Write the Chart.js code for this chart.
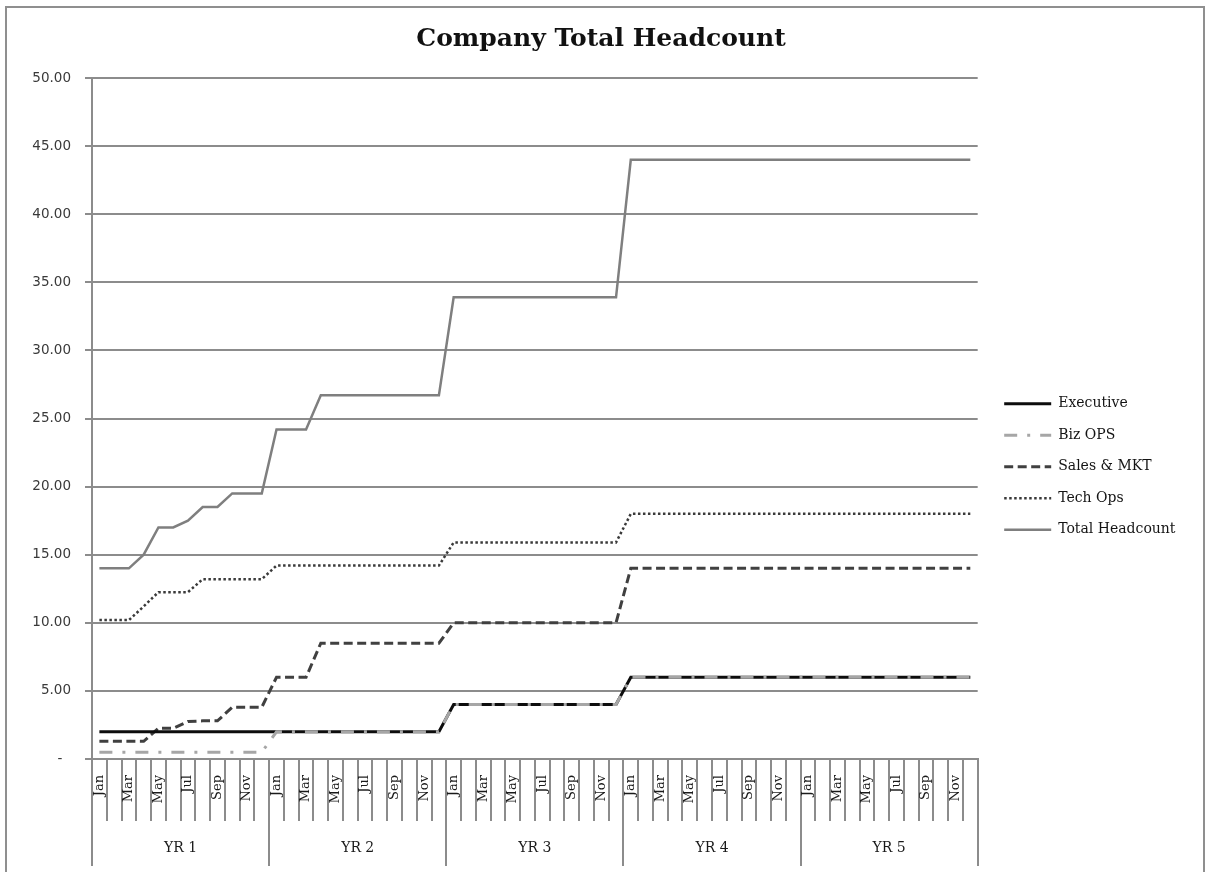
<!DOCTYPE html>
<html>
<head>
<meta charset="utf-8">
<title>Company Total Headcount</title>
<script src="https://cdn.jsdelivr.net/npm/chart.js@4.4.1/dist/chart.umd.min.js"></script>
<style>
  html, body { margin: 0; padding: 0; background: #ffffff; }
  #wrap { position: relative; width: 1210px; height: 872px; overflow: hidden; }
  #frame { position: absolute; left: 5px; top: 6px; width: 1196px; height: 900px;
           border: 2px solid #8f8f8f; pointer-events: none; }
  canvas { display: block; }
</style>
</head>
<body>
<div id="wrap">
  <canvas id="chart" width="1210" height="872"></canvas>
  <div id="frame"></div>
</div>
<script>
// Category levels: five plan years, twelve months each
const years = ['YR 1', 'YR 2', 'YR 3', 'YR 4', 'YR 5'];
const months = ['Jan', 'Feb', 'Mar', 'Apr', 'May', 'Jun', 'Jul', 'Aug', 'Sep', 'Oct', 'Nov', 'Dec'];

// Y axis ticks
const yTicks = [0, 5, 10, 15, 20, 25, 30, 35, 40, 45, 50];

// Headcount by department, one value per month (YR 1 .. YR 5)
const executive = [
  2, 2, 2, 2, 2, 2, 2, 2, 2, 2, 2, 2,
  2, 2, 2, 2, 2, 2, 2, 2, 2, 2, 2, 2,
  4, 4, 4, 4, 4, 4, 4, 4, 4, 4, 4, 4,
  6, 6, 6, 6, 6, 6, 6, 6, 6, 6, 6, 6,
  6, 6, 6, 6, 6, 6, 6, 6, 6, 6, 6, 6
];
const bizOps = [
  0.5, 0.5, 0.5, 0.5, 0.5, 0.5, 0.5, 0.5, 0.5, 0.5, 0.5, 0.5,
  2, 2, 2, 2, 2, 2, 2, 2, 2, 2, 2, 2,
  4, 4, 4, 4, 4, 4, 4, 4, 4, 4, 4, 4,
  6, 6, 6, 6, 6, 6, 6, 6, 6, 6, 6, 6,
  6, 6, 6, 6, 6, 6, 6, 6, 6, 6, 6, 6
];
const salesMkt = [
  1.3, 1.3, 1.3, 1.3, 2.25, 2.25, 2.75, 2.8, 2.8, 3.8, 3.8, 3.8,
  6, 6, 6, 8.5, 8.5, 8.5, 8.5, 8.5, 8.5, 8.5, 8.5, 8.5,
  10, 10, 10, 10, 10, 10, 10, 10, 10, 10, 10, 10,
  14, 14, 14, 14, 14, 14, 14, 14, 14, 14, 14, 14,
  14, 14, 14, 14, 14, 14, 14, 14, 14, 14, 14, 14
];
const techOps = [
  10.2, 10.2, 10.2, 11.2, 12.25, 12.25, 12.25, 13.2, 13.2, 13.2, 13.2, 13.2,
  14.2, 14.2, 14.2, 14.2, 14.2, 14.2, 14.2, 14.2, 14.2, 14.2, 14.2, 14.2,
  15.9, 15.9, 15.9, 15.9, 15.9, 15.9, 15.9, 15.9, 15.9, 15.9, 15.9, 15.9,
  18, 18, 18, 18, 18, 18, 18, 18, 18, 18, 18, 18,
  18, 18, 18, 18, 18, 18, 18, 18, 18, 18, 18, 18
];
const totalHeadcount = [
  14, 14, 14, 15, 17, 17, 17.5, 18.5, 18.5, 19.5, 19.5, 19.5,
  24.2, 24.2, 24.2, 26.7, 26.7, 26.7, 26.7, 26.7, 26.7, 26.7, 26.7, 26.7,
  33.9, 33.9, 33.9, 33.9, 33.9, 33.9, 33.9, 33.9, 33.9, 33.9, 33.9, 33.9,
  44, 44, 44, 44, 44, 44, 44, 44, 44, 44, 44, 44,
  44, 44, 44, 44, 44, 44, 44, 44, 44, 44, 44, 44
];

// One month label per data point
const monthLabels = years.flatMap(() => months);

const AXIS_GRAY = '#8c8c8c';
const SERIF = "'DejaVu Serif', 'Liberation Serif', serif";

// Nudges the right-hand legend a little away from the plot
const legendGap = {
  id: 'legendGap',
  afterLayout(chart) {
    const lg = chart.legend;
    if (lg) { lg.left += 9; lg.right += 9; }
  }
};

new Chart(document.getElementById('chart'), {
  type: 'line',
  data: {
    labels: monthLabels,
    datasets: [
      { label: 'Executive', data: executive, borderColor: '#0d0d0d', borderWidth: 3, order: 2 },
      { label: 'Biz OPS', data: bizOps, borderColor: '#a6a6a6', borderWidth: 3, borderDash: [13, 10, 3, 10], order: 1 },
      { label: 'Sales & MKT', data: salesMkt, borderColor: '#404040', borderWidth: 3, borderDash: [9, 4.5], order: 3 },
      { label: 'Tech Ops', data: techOps, borderColor: '#3a3a3a', borderWidth: 2.5, borderDash: [2.5, 2.5], order: 4 },
      { label: 'Total Headcount', data: totalHeadcount, borderColor: '#7f7f7f', borderWidth: 2.5, order: 5 }
    ]
  },
  options: {
    responsive: false,
    animation: false,
    layout: { padding: { left: 25.5, right: 33.5, top: 0, bottom: 0 } },
    elements: {
      point: { radius: 0, hoverRadius: 0 },
      line: { tension: 0, borderCapStyle: 'butt', borderJoinStyle: 'miter', fill: false }
    },
    plugins: {
      title: {
        display: true,
        text: 'Company Total Headcount',
        color: '#111111',
        font: { family: SERIF, size: 25, weight: 'bold' },
        padding: { top: 24, bottom: 24 }
      },
      legend: {
        position: 'right',
        align: 'start',
        fullSize: false,
        title: { display: true, text: '', font: { size: 1 }, padding: { top: 0, bottom: 300 } },
        labels: {
          usePointStyle: true,
          pointStyle: 'line',
          pointStyleWidth: 47,
          padding: 17.5,
          color: '#141414',
          font: { family: SERIF, size: 14 },
          sort: (a, b) => a.datasetIndex - b.datasetIndex,
          // legend samples carry each series' own dash pattern and stroke width
          generateLabels: (chart) => {
            const base = Chart.defaults.plugins.legend.labels.generateLabels(chart);
            return base.map((item) => {
              const ds = chart.data.datasets[item.datasetIndex];
              item.lineDash = ds.borderDash || [];
              item.lineWidth = ds.borderWidth;
              item.strokeStyle = ds.borderColor;
              item.pointStyle = 'line';
              return item;
            });
          }
        }
      },
      tooltip: { enabled: false }
    },
    scales: {
      x: {
        type: 'category',
        position: 'bottom',
        offset: true,
        weight: 0,
        grid: { display: true, drawOnChartArea: false, drawTicks: true, tickLength: 62,
                color: AXIS_GRAY, lineWidth: 2, offset: true },
        border: { display: true, color: AXIS_GRAY, width: 2 },
        ticks: {
          autoSkip: false,
          minRotation: 90,
          maxRotation: 90,
          padding: -46,
          color: '#1a1a1a',
          font: { family: SERIF, size: 13 },
          callback: function (value, index) {
            return index % 2 === 0 ? this.getLabelForValue(value) : '';
          }
        },
        afterFit: (scale) => { scale.height = 62; }
      },
      yearAxis: {
        type: 'category',
        position: 'bottom',
        labels: years,
        offset: true,
        weight: 1,
        grid: { display: true, drawOnChartArea: false, drawTicks: true, tickLength: 45,
                color: AXIS_GRAY, lineWidth: 2, offset: true },
        border: { display: false },
        ticks: {
          autoSkip: false,
          maxRotation: 0,
          minRotation: 0,
          padding: -26,
          color: '#1a1a1a',
          font: { family: SERIF, size: 14 }
        },
        afterFit: (scale) => { scale.height = 51; }
      },
      y: {
        min: yTicks[0],
        max: yTicks[yTicks.length - 1],
        afterBuildTicks: (scale) => { scale.ticks = yTicks.map(v => ({ value: v })); },
        grid: { color: AXIS_GRAY, lineWidth: 2, drawTicks: true, tickLength: 7 },
        border: { display: true, color: AXIS_GRAY, width: 2 },
        ticks: {
          padding: 14,
          color: '#3a3a3a',
          font: { family: "'DejaVu Sans', Verdana, sans-serif", size: 13.5 },
          callback: (v) => (v === 0 ? '-  ' : Number(v).toFixed(2))
        },
        afterFit: (scale) => { scale.width = 66.5; }
      }
    }
  },
  plugins: [legendGap]
});
</script>
</body>
</html>
